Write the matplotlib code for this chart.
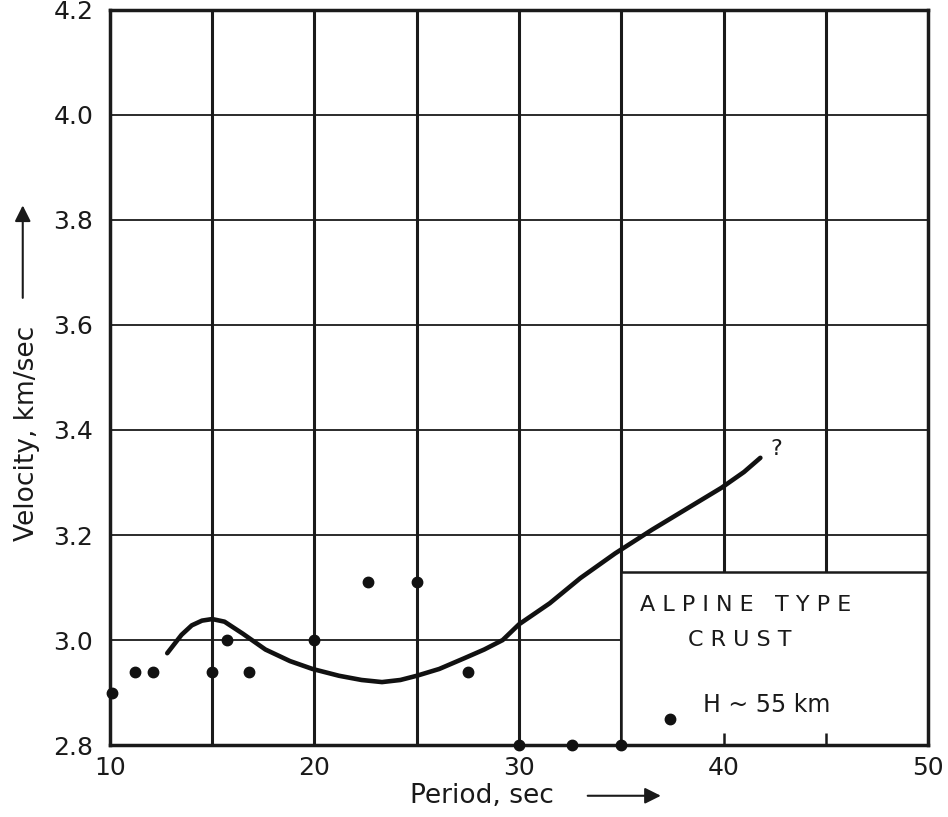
import matplotlib
matplotlib.use("Agg")
import matplotlib.pyplot as plt
from matplotlib.patches import Rectangle

# observed group velocities (period in s, velocity in km/s)
obs_period = [10.1, 11.2, 12.1, 15.0, 15.7, 16.8, 20.0, 22.6, 25.0, 27.5, 30.0, 32.6, 35.0]
obs_velocity = [2.90, 2.94, 2.94, 2.94, 3.00, 2.94, 3.00, 3.11, 3.11, 2.94, 2.80, 2.80, 2.80]

# hand-fitted dispersion curve
curve_period = [12.8, 13.1, 13.5, 14.0, 14.5, 15.0, 15.6, 16.5, 17.6, 18.8, 19.9,
                21.2, 22.3, 23.3, 24.2, 25.0, 26.1, 27.3, 28.3, 29.2, 30.0,
                31.5, 33.0, 34.7, 36.5, 38.2, 39.9, 41.0, 41.8]
curve_velocity = [2.975, 2.990, 3.010, 3.028, 3.037, 3.040, 3.035, 3.012, 2.982, 2.960, 2.945,
                  2.932, 2.924, 2.920, 2.924, 2.932, 2.945, 2.965, 2.982, 3.000, 3.030,
                  3.070, 3.118, 3.165, 3.210, 3.250, 3.290, 3.320, 3.347]

x_ticks = [10, 20, 30, 40, 50]
y_ticks = [2.8, 3.0, 3.2, 3.4, 3.6, 3.8, 4.0, 4.2]
grid_x = [15, 20, 25, 30, 35, 40, 45]
grid_y = [3.0, 3.2, 3.4, 3.6, 3.8, 4.0]

ink = "#1a1a1a"

fig = plt.figure(figsize=(9.48, 8.17), dpi=100)
ax = fig.add_axes([0.116, 0.088, 0.863, 0.900])
ax.set_xlim(10, 50)
ax.set_ylim(2.8, 4.2)

for gx in grid_x:
    ax.axvline(gx, color=ink, lw=2.2, zorder=1)
for gy in grid_y:
    ax.axhline(gy, color=ink, lw=1.3, zorder=1)

for s in ax.spines.values():
    s.set_linewidth(2.5)
    s.set_color(ink)

# legend box in the lower right corner
ax.add_patch(Rectangle((35, 2.8), 15, 0.33, facecolor="white", edgecolor=ink,
                       lw=1.8, zorder=2))
ax.vlines([40, 45], 2.8, 2.823, color=ink, lw=1.8, zorder=3)
ax.text(41.1, 3.067, "A L P I N E   T Y P E", ha="center", va="center", fontsize=16,
        color=ink, zorder=4)
ax.text(40.8, 3.0, "C R U S T", ha="center", va="center", fontsize=16, color=ink, zorder=4)
ax.plot([37.4], [2.85], "o", color="#111111", ms=7.5, zorder=4)
ax.text(39.0, 2.877, "H ~ 55 km", ha="left", va="center", fontsize=17, color=ink, zorder=4)

ax.plot(curve_period, curve_velocity, color="#111111", lw=3.3, zorder=5,
        solid_capstyle="round")
ax.text(42.3, 3.345, "?", fontsize=16, ha="left", va="bottom", color=ink, zorder=5)
ax.plot(obs_period, obs_velocity, "o", color="#111111", ms=7.5, zorder=6, clip_on=False)

ax.set_xticks(x_ticks)
ax.set_xticklabels([str(t) for t in x_ticks])
ax.set_yticks(y_ticks)
ax.set_yticklabels([f"{t:.1f}" for t in y_ticks])
ax.tick_params(length=0, labelsize=18, colors=ink)
ax.tick_params(axis="x", pad=8)
ax.tick_params(axis="y", pad=12)

# axis titles with direction arrows
fig.text(0.028, 0.47, "Velocity, km/sec", rotation=90, ha="center", va="center",
         fontsize=19, color=ink)
ax.annotate("", xy=(0.024, 0.752), xytext=(0.024, 0.632), xycoords="figure fraction",
            arrowprops=dict(arrowstyle="-|>", color=ink, lw=1.5, mutation_scale=24))
fig.text(0.432, 0.026, "Period, sec", ha="left", va="center", fontsize=19, color=ink)
ax.annotate("", xy=(0.700, 0.026), xytext=(0.617, 0.026), xycoords="figure fraction",
            arrowprops=dict(arrowstyle="-|>", color=ink, lw=1.5, mutation_scale=24))

fig.savefig("out.png", dpi=100)
